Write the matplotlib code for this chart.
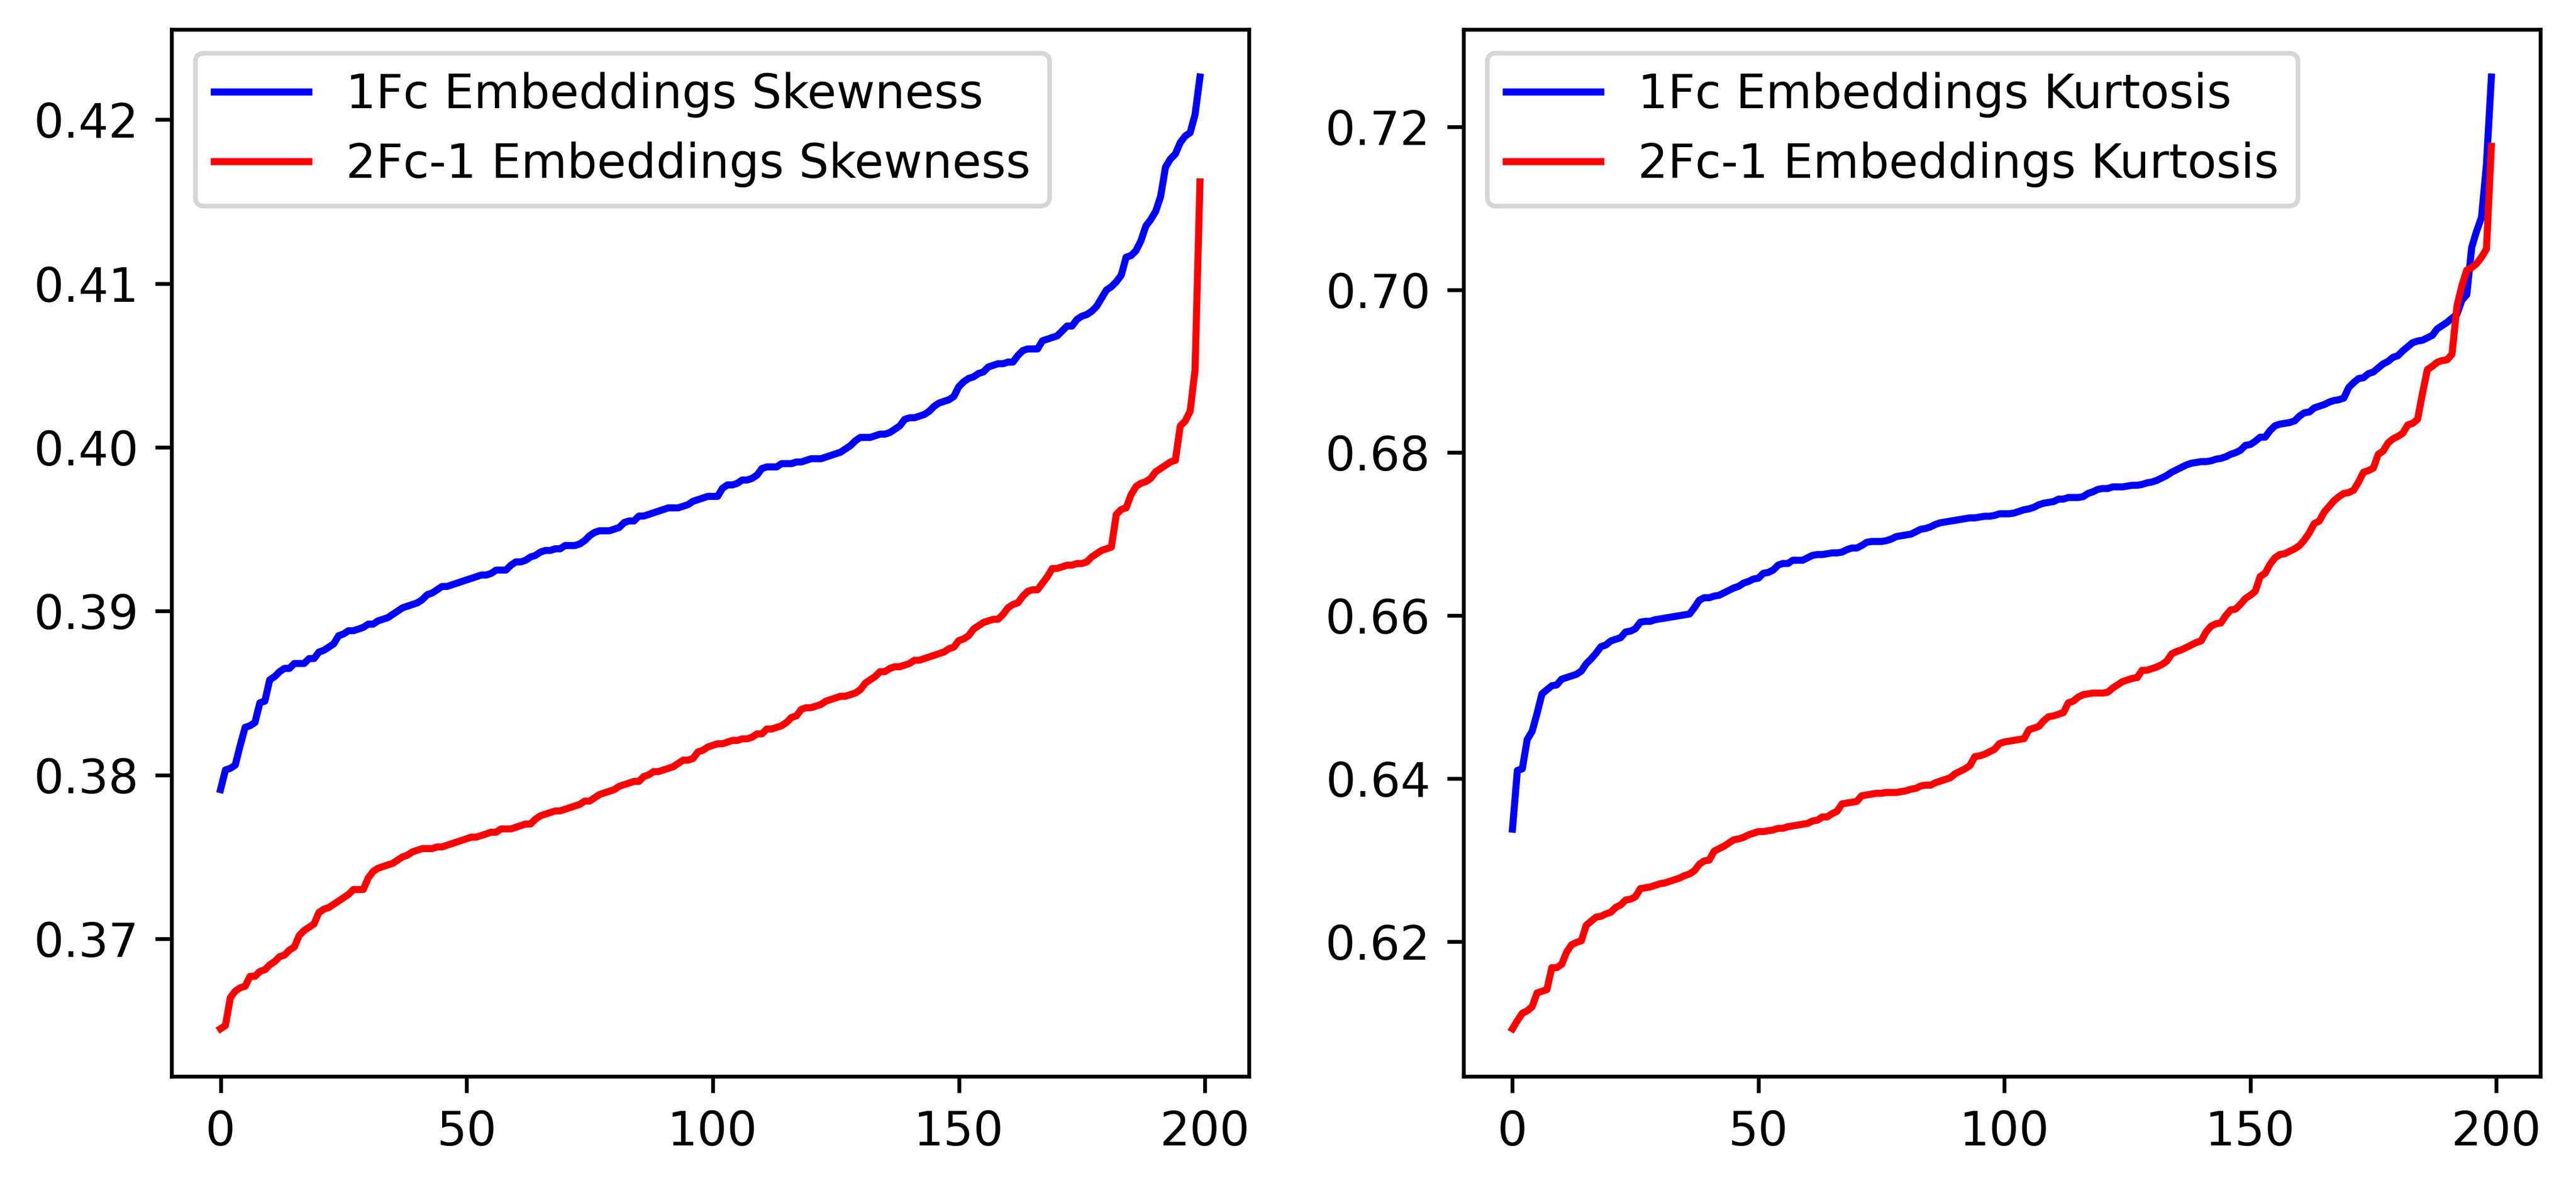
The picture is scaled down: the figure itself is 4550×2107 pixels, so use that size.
import matplotlib
matplotlib.use("Agg")
import matplotlib.pyplot as plt
import numpy as np

# ---- data ----
skew_1fc = [
 0.3791,0.3803,0.3804,0.3806,0.3818,0.3829,0.3830,0.3832,0.3844,0.3845,
 0.3858,0.3860,0.3863,0.3865,0.3865,0.3868,0.3868,0.3868,0.3871,0.3871,
 0.3875,0.3876,0.3878,0.3880,0.3885,0.3886,0.3888,0.3888,0.3889,0.3890,
 0.3892,0.3892,0.3894,0.3895,0.3896,0.3898,0.3900,0.3902,0.3903,0.3904,
 0.3905,0.3907,0.3910,0.3911,0.3913,0.3915,0.3915,0.3916,0.3917,0.3918,
 0.3919,0.3920,0.3921,0.3922,0.3922,0.3923,0.3925,0.3925,0.3925,0.3928,
 0.3930,0.3930,0.3931,0.3933,0.3934,0.3936,0.3937,0.3937,0.3938,0.3938,
 0.3940,0.3940,0.3940,0.3941,0.3943,0.3946,0.3948,0.3949,0.3949,0.3949,
 0.3950,0.3951,0.3954,0.3955,0.3955,0.3958,0.3958,0.3959,0.3960,0.3961,
 0.3962,0.3963,0.3963,0.3963,0.3964,0.3965,0.3967,0.3968,0.3969,0.3970,
 0.3970,0.3970,0.3975,0.3977,0.3977,0.3978,0.3980,0.3980,0.3981,0.3983,
 0.3987,0.3988,0.3988,0.3988,0.3990,0.3990,0.3990,0.3991,0.3991,0.3992,
 0.3993,0.3993,0.3993,0.3994,0.3995,0.3996,0.3997,0.3999,0.4001,0.4004,
 0.4006,0.4006,0.4006,0.4007,0.4008,0.4008,0.4009,0.4011,0.4013,0.4017,
 0.4018,0.4018,0.4019,0.4020,0.4022,0.4025,0.4027,0.4028,0.4029,0.4031,
 0.4037,0.4040,0.4042,0.4043,0.4045,0.4046,0.4049,0.4050,0.4051,0.4051,
 0.4052,0.4052,0.4056,0.4059,0.4060,0.4060,0.4060,0.4065,0.4066,0.4067,
 0.4068,0.4071,0.4074,0.4074,0.4078,0.4080,0.4081,0.4083,0.4086,0.4091,
 0.4096,0.4098,0.4101,0.4105,0.4116,0.4117,0.4120,0.4126,0.4135,0.4139,
 0.4144,0.4153,0.4171,0.4176,0.4179,0.4186,0.4190,0.4192,0.4203,0.4226,
]

skew_2fc = [
 0.3645,0.3647,0.3664,0.3668,0.3670,0.3671,0.3677,0.3677,0.3680,0.3681,
 0.3684,0.3686,0.3689,0.3690,0.3693,0.3695,0.3702,0.3705,0.3707,0.3709,
 0.3716,0.3718,0.3719,0.3721,0.3723,0.3725,0.3727,0.3730,0.3730,0.3730,
 0.3737,0.3741,0.3743,0.3744,0.3745,0.3746,0.3748,0.3750,0.3751,0.3753,
 0.3754,0.3755,0.3755,0.3755,0.3756,0.3756,0.3757,0.3758,0.3759,0.3760,
 0.3761,0.3762,0.3762,0.3763,0.3764,0.3765,0.3765,0.3767,0.3767,0.3767,
 0.3768,0.3769,0.3770,0.3770,0.3773,0.3775,0.3776,0.3777,0.3778,0.3778,
 0.3779,0.3780,0.3781,0.3782,0.3784,0.3784,0.3786,0.3788,0.3789,0.3790,
 0.3791,0.3793,0.3794,0.3795,0.3796,0.3796,0.3799,0.3800,0.3802,0.3802,
 0.3803,0.3804,0.3805,0.3807,0.3809,0.3809,0.3810,0.3814,0.3815,0.3817,
 0.3818,0.3819,0.3819,0.3820,0.3821,0.3821,0.3822,0.3822,0.3823,0.3825,
 0.3825,0.3828,0.3828,0.3829,0.3830,0.3832,0.3835,0.3836,0.3840,0.3841,
 0.3841,0.3842,0.3843,0.3845,0.3846,0.3847,0.3848,0.3848,0.3849,0.3850,
 0.3852,0.3856,0.3858,0.3860,0.3863,0.3863,0.3865,0.3866,0.3866,0.3867,
 0.3868,0.3870,0.3870,0.3871,0.3872,0.3873,0.3874,0.3875,0.3877,0.3878,
 0.3882,0.3883,0.3885,0.3889,0.3891,0.3893,0.3894,0.3895,0.3895,0.3898,
 0.3902,0.3904,0.3905,0.3909,0.3912,0.3913,0.3913,0.3917,0.3921,0.3926,
 0.3926,0.3927,0.3928,0.3928,0.3929,0.3929,0.3930,0.3933,0.3935,0.3937,
 0.3938,0.3939,0.3959,0.3962,0.3963,0.3971,0.3976,0.3978,0.3979,0.3981,
 0.3985,0.3987,0.3989,0.3991,0.3992,0.4013,0.4016,0.4022,0.4047,0.4162,
]

kurt_1fc = [
 0.6338,0.6410,0.6412,0.6448,0.6458,0.6480,0.6504,0.6509,0.6514,0.6515,
 0.6522,0.6524,0.6526,0.6528,0.6532,0.6541,0.6547,0.6554,0.6562,0.6564,
 0.6569,0.6571,0.6573,0.6580,0.6581,0.6584,0.6592,0.6593,0.6593,0.6595,
 0.6596,0.6597,0.6598,0.6599,0.6600,0.6601,0.6602,0.6610,0.6619,0.6622,
 0.6622,0.6624,0.6625,0.6628,0.6631,0.6634,0.6636,0.6640,0.6642,0.6645,
 0.6646,0.6652,0.6653,0.6656,0.6662,0.6664,0.6664,0.6668,0.6668,0.6668,
 0.6671,0.6674,0.6675,0.6675,0.6676,0.6677,0.6677,0.6678,0.6681,0.6683,
 0.6683,0.6686,0.6690,0.6691,0.6691,0.6691,0.6692,0.6694,0.6697,0.6698,
 0.6699,0.6700,0.6703,0.6706,0.6707,0.6709,0.6712,0.6714,0.6715,0.6716,
 0.6717,0.6718,0.6719,0.6720,0.6720,0.6721,0.6722,0.6722,0.6723,0.6725,
 0.6725,0.6725,0.6726,0.6728,0.6730,0.6731,0.6733,0.6736,0.6738,0.6739,
 0.6740,0.6743,0.6743,0.6745,0.6745,0.6745,0.6746,0.6750,0.6752,0.6755,
 0.6756,0.6756,0.6758,0.6758,0.6758,0.6759,0.6760,0.6760,0.6761,0.6763,
 0.6764,0.6766,0.6769,0.6772,0.6776,0.6779,0.6782,0.6785,0.6787,0.6788,
 0.6789,0.6789,0.6790,0.6792,0.6793,0.6795,0.6798,0.6800,0.6803,0.6809,
 0.6810,0.6814,0.6819,0.6819,0.6827,0.6833,0.6835,0.6836,0.6837,0.6839,
 0.6845,0.6849,0.6850,0.6855,0.6857,0.6859,0.6862,0.6864,0.6865,0.6867,
 0.6880,0.6886,0.6891,0.6892,0.6897,0.6899,0.6904,0.6909,0.6912,0.6917,
 0.6919,0.6925,0.6930,0.6935,0.6937,0.6938,0.6941,0.6944,0.6952,0.6956,
 0.6960,0.6965,0.6970,0.6987,0.6994,0.7052,0.7072,0.7089,0.7154,0.7261,
]

kurt_2fc = [
 0.6093,0.6103,0.6112,0.6115,0.6120,0.6137,0.6139,0.6141,0.6168,0.6168,
 0.6172,0.6187,0.6196,0.6199,0.6201,0.6220,0.6225,0.6230,0.6231,0.6234,
 0.6236,0.6242,0.6245,0.6251,0.6252,0.6255,0.6265,0.6266,0.6267,0.6269,
 0.6271,0.6272,0.6274,0.6276,0.6278,0.6281,0.6283,0.6287,0.6295,0.6299,
 0.6300,0.6311,0.6314,0.6317,0.6321,0.6325,0.6326,0.6328,0.6331,0.6333,
 0.6335,0.6335,0.6336,0.6337,0.6339,0.6339,0.6341,0.6342,0.6343,0.6344,
 0.6345,0.6348,0.6349,0.6353,0.6353,0.6357,0.6360,0.6369,0.6370,0.6371,
 0.6372,0.6379,0.6380,0.6381,0.6382,0.6382,0.6383,0.6383,0.6383,0.6384,
 0.6385,0.6387,0.6388,0.6391,0.6392,0.6392,0.6395,0.6397,0.6399,0.6401,
 0.6406,0.6409,0.6412,0.6416,0.6427,0.6428,0.6430,0.6433,0.6436,0.6443,
 0.6445,0.6446,0.6447,0.6448,0.6449,0.6460,0.6462,0.6464,0.6471,0.6476,
 0.6477,0.6479,0.6481,0.6493,0.6495,0.6500,0.6503,0.6504,0.6505,0.6505,
 0.6505,0.6506,0.6511,0.6515,0.6519,0.6521,0.6523,0.6524,0.6533,0.6533,
 0.6535,0.6537,0.6540,0.6544,0.6553,0.6556,0.6558,0.6561,0.6564,0.6567,
 0.6569,0.6580,0.6587,0.6590,0.6591,0.6600,0.6607,0.6608,0.6614,0.6621,
 0.6625,0.6630,0.6648,0.6652,0.6663,0.6671,0.6675,0.6676,0.6679,0.6682,
 0.6686,0.6693,0.6702,0.6713,0.6716,0.6727,0.6734,0.6741,0.6746,0.6750,
 0.6751,0.6754,0.6764,0.6776,0.6778,0.6781,0.6798,0.6802,0.6812,0.6817,
 0.6820,0.6824,0.6834,0.6836,0.6841,0.6873,0.6902,0.6906,0.6911,0.6913,
 0.6914,0.6921,0.6980,0.7005,0.7024,0.7027,0.7032,0.7040,0.7050,0.7176,
]

labels_left = ["1Fc Embeddings Skewness", "2Fc-1 Embeddings Skewness"]
labels_right = ["1Fc Embeddings Kurtosis", "2Fc-1 Embeddings Kurtosis"]

# ---- figure ----
W, H, DPI = 4550, 2107, 600
fig = plt.figure(figsize=(W / DPI, H / DPI), dpi=DPI)

bottom = 1 - 1901 / H
height = (1901 - 52) / H
ax1 = fig.add_axes([303 / W, bottom, (2206 - 303) / W, height])
ax2 = fig.add_axes([2585 / W, bottom, (4487 - 2585) / W, height])

ax1.plot(np.arange(len(skew_1fc)), skew_1fc, color="blue", label=labels_left[0])
ax1.plot(np.arange(len(skew_2fc)), skew_2fc, color="red", label=labels_left[1])
ax1.legend(loc="upper left")

ax2.plot(np.arange(len(kurt_1fc)), kurt_1fc, color="blue", label=labels_right[0])
ax2.plot(np.arange(len(kurt_2fc)), kurt_2fc, color="red", label=labels_right[1])
ax2.legend(loc="upper left")

fig.savefig("out.png", dpi=DPI)
